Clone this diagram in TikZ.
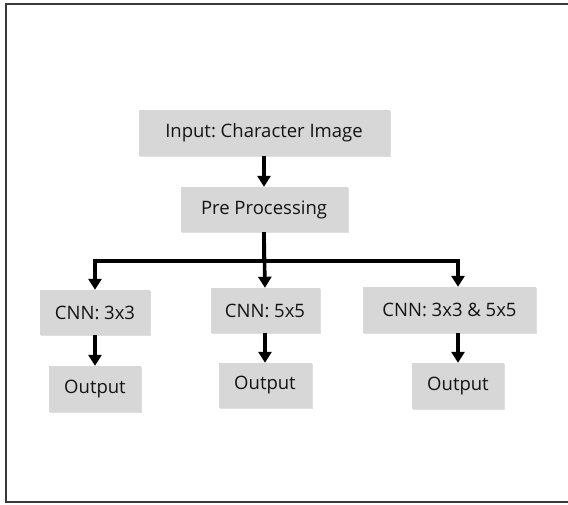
\documentclass[tikz,border=0pt]{standalone}
\usepackage{fontspec}
\setmainfont{Open Sans}
\frenchspacing
\usetikzlibrary{arrows.meta,shadows}
\definecolor{boxgray}{HTML}{D7D7D7}
\definecolor{framegray}{HTML}{3A3A3A}
\begin{document}
\begin{tikzpicture}[x=1pt,y=-1pt,
  box/.style={fill=boxgray, inner sep=0pt, anchor=center,
    font=\fontsize{18.5}{22}\selectfont, text=black!92,
    drop shadow={shadow xshift=1pt, shadow yshift=-1pt, opacity=0.25}},
  conn/.style={line width=3.6pt, line join=miter, -{Triangle[width=13pt,length=11pt]}},
  trunk/.style={line width=3.6pt}]
\useasboundingbox (0,0) rectangle (568,505);
\draw[framegray, line width=2pt] (575,4) -- (6,4) -- (6,502) -- (575,502);

\node[box, minimum width=251pt, minimum height=46pt] (in) at (264,133) {Input: Character Image};
\node[box, minimum width=167pt, minimum height=45pt] (pre) at (264,209.5) {Pre Processing};
\node[box, minimum width=110pt, minimum height=45pt] (c1) at (95,312.5) {CNN: 3x3};
\node[box, minimum width=109pt, minimum height=45pt] (c2) at (265,310.5) {CNN: 5x5};
\node[box, minimum width=173pt, minimum height=46pt] (c3) at (449.5,310) {CNN: 3x3 \& 5x5};
\node[box, minimum width=92pt, minimum height=46pt] (o1) at (95,389) {Output};
\node[box, minimum width=93pt, minimum height=45pt] (o2) at (265,385.5) {Output};
\node[box, minimum width=92pt, minimum height=46pt] (o3) at (458,386) {Output};

\coordinate (j) at (264,261);
\draw[conn] (in.south) -- (pre.north);
\draw[trunk] (pre.south) -- (j);
\draw[conn] (j) -| (c1.north);
\draw[conn] (pre.south) -- (c2.north);
\draw[conn] (j) -| (c3.north -| o3.north);
\draw[conn] (c1.south) -- (o1.north);
\draw[conn] (c2.south) -- (o2.north);
\draw[conn] (c3.south -| o3.north) -- (o3.north);
\end{tikzpicture}
\end{document}
